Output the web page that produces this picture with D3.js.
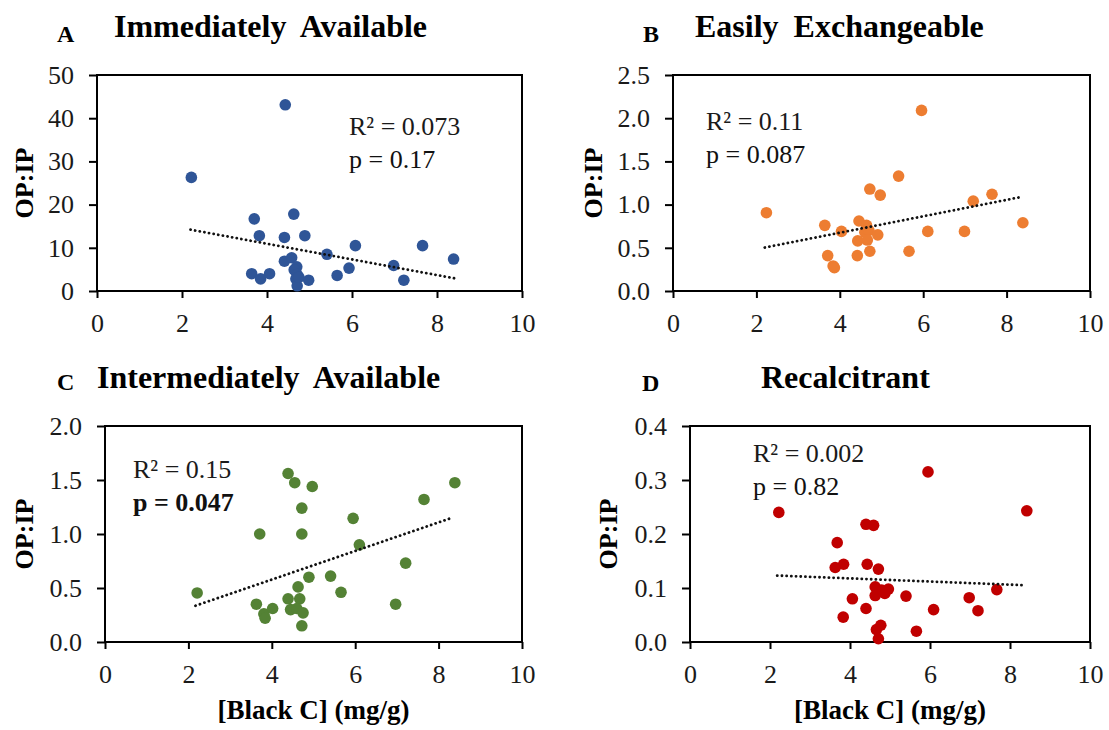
<!DOCTYPE html>
<html>
<head>
<meta charset="utf-8">
<script src="https://cdn.jsdelivr.net/npm/d3@7"></script>
<style>
  body { margin: 0; background: #fff; }
  svg { display: block; }
</style>
</head>
<body>
<div id="chart"></div>
<script>
// -------------------- DATA --------------------

const xTicks = [0, 2, 4, 6, 8, 10];

// A: Immediately Available
const xA = [2.22, 4.43, 3.70, 3.82, 4.41, 4.63, 4.89, 3.64, 3.85, 4.06, 4.41, 4.58, 4.70, 4.64, 4.71, 4.68, 4.71, 4.75, 4.98, 5.41, 5.65, 5.93, 6.08, 6.98, 7.22, 7.66, 8.39];
const yA = [26.3, 43.1, 16.7, 12.8, 12.4, 17.8, 12.8, 4.0, 2.8, 4.0, 6.9, 7.7, 5.6, 4.9, 3.8, 2.8, 1.2, 3.2, 2.5, 8.5, 3.6, 5.3, 10.5, 5.9, 2.5, 10.5, 7.4];
const trendA = [[2.2, 14.2], [8.43, 2.9]];
const yTicksA = [0, 10, 20, 30, 40, 50];

// B: Easily Exchangeable
const xB = [2.24, 5.96, 5.41, 4.72, 4.97, 7.20, 7.65, 8.39, 3.64, 4.04, 4.46, 4.64, 4.60, 4.70, 4.91, 4.43, 4.66, 4.72, 3.71, 4.42, 3.84, 3.87, 5.66, 6.11, 6.99];
const yB = [0.906, 2.09, 1.33, 1.18, 1.11, 1.04, 1.12, 0.79, 0.76, 0.69, 0.81, 0.76, 0.68, 0.70, 0.65, 0.58, 0.59, 0.46, 0.41, 0.41, 0.29, 0.27, 0.46, 0.69, 0.69];
const trendB = [[2.2, 0.503], [8.37, 1.09]];
const yTicksB = [0, 0.5, 1.0, 1.5, 2.0, 2.5];

// C: Intermediately Available
const xC = [2.21, 4.39, 4.55, 4.97, 4.72, 3.71, 4.72, 5.95, 6.10, 8.39, 7.65, 7.21, 4.89, 5.41, 4.63, 5.66, 4.39, 4.67, 3.63, 3.81, 3.84, 4.02, 4.45, 4.60, 4.75, 4.72, 6.97];
const yC = [0.454, 1.56, 1.475, 1.44, 1.24, 1.00, 1.00, 1.145, 0.90, 1.475, 1.32, 0.73, 0.60, 0.61, 0.51, 0.46, 0.40, 0.40, 0.35, 0.26, 0.22, 0.31, 0.30, 0.31, 0.27, 0.15, 0.35];
const trendC = [[2.17, 0.336], [8.32, 1.15]];
const yTicksC = [0, 0.5, 1.0, 1.5, 2.0];

// D: Recalcitrant
const xD = [2.22, 5.95, 8.42, 4.40, 4.59, 3.68, 3.63, 3.84, 4.43, 4.71, 4.63, 4.79, 4.96, 4.87, 4.63, 4.06, 5.40, 6.98, 7.67, 4.40, 6.09, 7.20, 3.83, 4.66, 4.77, 5.66, 4.71];
const yD = [0.240, 0.315, 0.243, 0.218, 0.216, 0.184, 0.138, 0.144, 0.144, 0.135, 0.102, 0.096, 0.098, 0.090, 0.086, 0.080, 0.085, 0.082, 0.097, 0.062, 0.060, 0.058, 0.046, 0.023, 0.031, 0.020, 0.006];
const trendD = [[2.18, 0.123], [8.4, 0.105]];
const yTicksD = [0, 0.1, 0.2, 0.3, 0.4];

// -------------------- VISUALIZATION --------------------

const width = 1109, height = 730;
const serif = "'Liberation Serif', 'Times New Roman', serif";

const panels = [
    { letter: "A", title: "Immediately Available", xs: xA, ys: yA, trend: trendA, yTicks: yTicksA, yFmt: d3.format("d"),
      color: "#2F5597", box: { left: 97, right: 522, top: 75, bottom: 291 },
      letterPos: [57, 42], titlePos: [114, 37], ylabX: 24,
      stats: ["0.073", "0.17"], statPos: [349, 135], pBold: false, xlabel: false },
    { letter: "B", title: "Easily Exchangeable", xs: xB, ys: yB, trend: trendB, yTicks: yTicksB, yFmt: d3.format(".1f"),
      color: "#ED7D31", box: { left: 673, right: 1090, top: 75, bottom: 291 },
      letterPos: [643, 42], titlePos: [695, 37], ylabX: 593,
      stats: ["0.11", "0.087"], statPos: [706, 130], pBold: false, xlabel: false },
    { letter: "C", title: "Intermediately Available", xs: xC, ys: yC, trend: trendC, yTicks: yTicksC, yFmt: d3.format(".1f"),
      color: "#548235", box: { left: 105, right: 522, top: 426, bottom: 642 },
      letterPos: [57, 390], titlePos: [97, 388], ylabX: 24,
      stats: ["0.15", "0.047"], statPos: [133, 478], pBold: true, xlabel: true },
    { letter: "D", title: "Recalcitrant", xs: xD, ys: yD, trend: trendD, yTicks: yTicksD, yFmt: d3.format(".1f"),
      color: "#C00000", box: { left: 690, right: 1090, top: 426, bottom: 642 },
      letterPos: [642, 391], titlePos: [761, 388], ylabX: 608,
      stats: ["0.002", "0.82"], statPos: [753, 462], pBold: false, xlabel: true }
];

const svg = d3.select("#chart")
    .append("svg")
    .attr("width", width)
    .attr("height", height)
    .attr("font-family", serif);

function drawPanel(p) {
    const b = p.box;
    const x = d3.scaleLinear().domain([0, 10]).range([b.left, b.right]);
    const y = d3.scaleLinear().domain([0, d3.max(p.yTicks)]).range([b.bottom, b.top]);
    const g = svg.append("g");

    // axes (ticks outside, frame drawn separately)
    g.append("g")
        .attr("transform", `translate(0,${b.bottom})`)
        .call(d3.axisBottom(x).tickValues(xTicks).tickFormat(d3.format("d")).tickSize(7).tickPadding(16))
        .call(a => a.select(".domain").remove())
        .call(a => a.selectAll("line").attr("stroke", "#000").attr("stroke-width", 2))
        .call(a => a.selectAll("text").attr("font-family", serif).attr("font-size", 26).attr("fill", "#1a1a1a"));

    g.append("g")
        .attr("transform", `translate(${b.left},0)`)
        .call(d3.axisLeft(y).tickValues(p.yTicks).tickFormat(p.yFmt).tickSize(8).tickPadding(15))
        .call(a => a.select(".domain").remove())
        .call(a => a.selectAll("line").attr("stroke", "#000").attr("stroke-width", 2))
        .call(a => a.selectAll("text").attr("font-family", serif).attr("font-size", 26).attr("fill", "#1a1a1a"));

    g.append("rect")
        .attr("x", b.left).attr("y", b.top)
        .attr("width", b.right - b.left).attr("height", b.bottom - b.top)
        .attr("fill", "none").attr("stroke", "#000").attr("stroke-width", 2);

    // points
    g.append("g")
        .selectAll("circle")
        .data(d3.zip(p.xs, p.ys))
        .join("circle")
        .attr("cx", d => x(d[0]))
        .attr("cy", d => y(d[1]))
        .attr("r", 5.8)
        .attr("fill", p.color);

    // dotted trend line
    g.append("path")
        .attr("d", d3.line().x(d => x(d[0])).y(d => y(d[1]))(p.trend))
        .attr("fill", "none")
        .attr("stroke", "#111")
        .attr("stroke-width", 2.8)
        .attr("stroke-linecap", "round")
        .attr("stroke-dasharray", "0.1 4.6");

    // texts
    g.append("text")
        .attr("x", p.letterPos[0]).attr("y", p.letterPos[1])
        .attr("font-size", 24).attr("font-weight", "bold")
        .text(p.letter);

    g.append("text")
        .attr("x", p.titlePos[0]).attr("y", p.titlePos[1])
        .attr("font-size", 32).attr("font-weight", "bold")
        .style("word-spacing", "7px")
        .text(p.title);

    g.append("text")
        .attr("transform", `translate(${p.ylabX + 9},${(b.top + b.bottom) / 2}) rotate(-90)`)
        .attr("text-anchor", "middle")
        .attr("font-size", 26).attr("font-weight", "bold")
        .text("OP:IP");

    if (p.xlabel) {
        g.append("text")
            .attr("x", (b.left + b.right) / 2).attr("y", 719)
            .attr("text-anchor", "middle")
            .attr("font-size", 27).attr("font-weight", "bold")
            .text("[Black C] (mg/g)");
    }

    g.append("text")
        .attr("x", p.statPos[0]).attr("y", p.statPos[1])
        .attr("font-size", 26).attr("fill", "#1a1a1a")
        .text("R² = " + p.stats[0]);

    g.append("text")
        .attr("x", p.statPos[0]).attr("y", p.statPos[1] + 33)
        .attr("font-size", 26).attr("fill", "#111")
        .attr("font-weight", p.pBold ? "bold" : "normal")
        .text("p = " + p.stats[1]);
}

panels.forEach(drawPanel);
</script>
</body>
</html>
